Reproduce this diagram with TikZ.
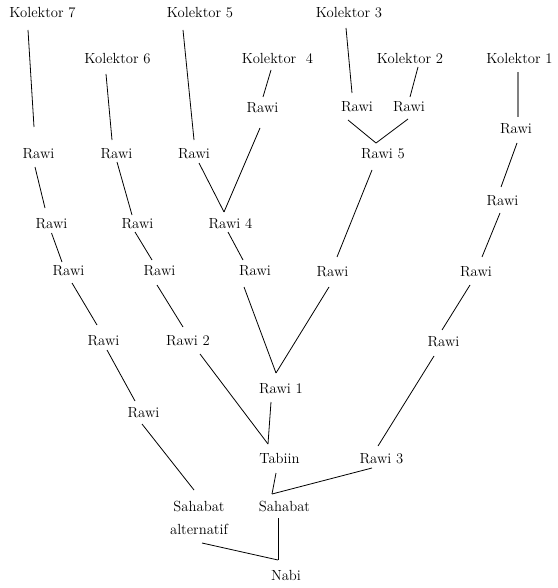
\documentclass[tikz,border=0pt]{standalone}
\usepackage{tikz}
\tikzset{lbl/.style = {anchor = base, inner sep = 0, font = \fontsize{11}{17.25}\selectfont}}
\tikzset{ln/.style = {line width = 0.6pt}}

\begin{document}
\begin{tikzpicture}[x = 0.75pt, y = -0.75pt]
    \useasboundingbox (0, 0) rectangle (557, 588);

    \node[lbl] (k7) at (42.5, 18) {Kolektor 7};
    \node[lbl] (k5) at (200, 18) {Kolektor 5};
    \node[lbl] (k3) at (349, 18) {Kolektor 3};
    \node[lbl] (k6) at (117.5, 64) {Kolektor 6};
    \node[lbl] (k4) at (277.5, 64) {Kolektor\ \ 4};
    \node[lbl] (k2) at (410, 64) {Kolektor 2};
    \node[lbl] (k1) at (519.5, 64) {Kolektor 1};

    \node[lbl] (r4a) at (262.5, 113) {Rawi};
    \node[lbl] (r3a) at (357, 112) {Rawi};
    \node[lbl] (r2a) at (409, 112) {Rawi};
    \node[lbl] (r1a) at (516, 133) {Rawi};

    \node[lbl] (r7a) at (38.5, 158) {Rawi};
    \node[lbl] (r6a) at (116.5, 158) {Rawi};
    \node[lbl] (r5a) at (194, 158) {Rawi};
    \node[lbl] (rawi5) at (383, 158) {Rawi 5};
    \node[lbl] (r1b) at (502.5, 205) {Rawi};

    \node[lbl] (r7b) at (51.5, 228) {Rawi};
    \node[lbl] (r6b) at (137.5, 228) {Rawi};
    \node[lbl] (rawi4) at (230.5, 228) {Rawi 4};

    \node[lbl] (r7c) at (68.5, 275) {Rawi};
    \node[lbl] (r6c) at (159.5, 275) {Rawi};
    \node[lbl] (r4b) at (255, 275) {Rawi};
    \node[lbl] (r5b) at (332.5, 276) {Rawi};
    \node[lbl] (r1c) at (476, 276) {Rawi};

    \node[lbl] (r7d) at (103.5, 345) {Rawi};
    \node[lbl] (rawi2) at (188, 345) {Rawi 2};
    \node[lbl] (r1d) at (443.5, 346) {Rawi};
    \node[lbl] (rawi1) at (281, 393) {Rawi 1};
    \node[lbl] (r7e) at (143.5, 417) {Rawi};

    \node[lbl] (tabiin) at (279.5, 463) {Tabiin};
    \node[lbl] (rawi3) at (381.5, 463) {Rawi 3};
    \node[lbl, align = center] (sahalt) at (199, 534) {Sahabat\\alternatif};
    \node[lbl] (sahabat) at (284.5, 511) {Sahabat};
    \node[lbl] (nabi) at (286, 580) {Nabi};

    % meeting points
    \coordinate (j5) at ([shift={(-7, -15)}]rawi5.base);
    \coordinate (j4) at ([shift={(-6.5, -16)}]rawi4.base);
    \coordinate (j1) at ([shift={(-5, -20)}]rawi1.base);
    \coordinate (jt) at ([shift={(-11.5, -19)}]tabiin.base);
    \coordinate (js) at ([shift={(-12.5, -17)}]sahabat.base);
    \coordinate (jn) at ([shift={(-8, -20)}]nabi.base);

    % Kolektor 7
    \draw[ln] ([shift={(-14.5, 12)}]k7.base) -- ([shift={(-4.5, -31)}]r7a.base);
    \draw[ln] ([shift={(-3.5, 9)}]r7a.base) -- ([shift={(-6.5, -20)}]r7b.base);
    \draw[ln] ([shift={(0, 5)}]r7b.base) -- ([shift={(-6.5, -13)}]r7c.base);
    \draw[ln] ([shift={(3.5, 8)}]r7c.base) -- ([shift={(-6.5, -20)}]r7d.base);
    \draw[ln] ([shift={(3.5, 5)}]r7d.base) -- ([shift={(-8.5, -16)}]r7e.base);
    \draw[ln] ([shift={(-1.5, 7)}]r7e.base) -- ([shift={(-5, -44)}]sahalt.base);

    % Kolektor 6
    \draw[ln] ([shift={(-11.5, 10)}]k6.base) -- ([shift={(-4.5, -18)}]r6a.base);
    \draw[ln] ([shift={(0.5, 4)}]r6a.base) -- ([shift={(-5.5, -13)}]r6b.base);
    \draw[ln] ([shift={(-2.5, 4)}]r6b.base) -- ([shift={(-7.5, -15)}]r6c.base);
    \draw[ln] ([shift={(-2.5, 10)}]r6c.base) -- ([shift={(-5, -18)}]rawi2.base);
    \draw[ln] ([shift={(12, 9)}]rawi2.base) -- (jt);

    % Kolektor 5 and 4
    \draw[ln] ([shift={(-17, 12)}]k5.base) -- ([shift={(0, -18)}]r5a.base);
    \draw[ln] ([shift={(5, 5)}]r5a.base) -- (j4);
    \draw[ln] ([shift={(-6.5, 6)}]k4.base) -- ([shift={(0.5, -16)}]r4a.base);
    \draw[ln] ([shift={(-2.5, 15)}]r4a.base) -- (j4);
    \draw[ln] ([shift={(-2.5, 4)}]rawi4.base) -- ([shift={(-12, -15)}]r4b.base);
    \draw[ln] ([shift={(-11, 12)}]r4b.base) -- (j1);
    \draw[ln] ([shift={(-10, 9)}]rawi1.base) -- (jt);

    % Kolektor 3 and 2
    \draw[ln] ([shift={(-3, 10)}]k3.base) -- ([shift={(-5, -19)}]r3a.base);
    \draw[ln] ([shift={(8, 3)}]k2.base) -- ([shift={(1, -15)}]r2a.base);
    \draw[ln] ([shift={(-9, 8)}]r3a.base) -- (j5);
    \draw[ln] ([shift={(-1, 7)}]r2a.base) -- (j5);
    \draw[ln] ([shift={(-11, 12)}]rawi5.base) -- ([shift={(4.5, -19)}]r5b.base);
    \draw[ln] ([shift={(-3.5, 11)}]r5b.base) -- (j1);

    % Kolektor 1
    \draw[line width = 1pt, gray] ([shift={(-1.5, 8)}]k1.base) -- ([shift={(2, -16)}]r1a.base);
    \draw[ln] ([shift={(1, 10)}]r1a.base) -- ([shift={(-1.5, -18)}]r1b.base);
    \draw[ln] ([shift={(-2.5, 8)}]r1b.base) -- ([shift={(6, -19)}]r1c.base);
    \draw[ln] ([shift={(-6, 9)}]r1c.base) -- ([shift={(-1.5, -16)}]r1d.base);
    \draw[ln] ([shift={(-9.5, 10)}]r1d.base) -- ([shift={(-3.5, -17)}]rawi3.base);

    % down to Nabi
    \draw[ln] ([shift={(-9.5, 5)}]rawi3.base) -- (js);
    \draw[ln] ([shift={(-3.5, 10)}]tabiin.base) -- (js);
    \draw[ln] ([shift={(-6.5, 7)}]sahabat.base) -- (jn);
    \draw[ln] ([shift={(3, 9)}]sahalt.base) -- (jn);
  \end{tikzpicture}
\end{document}
